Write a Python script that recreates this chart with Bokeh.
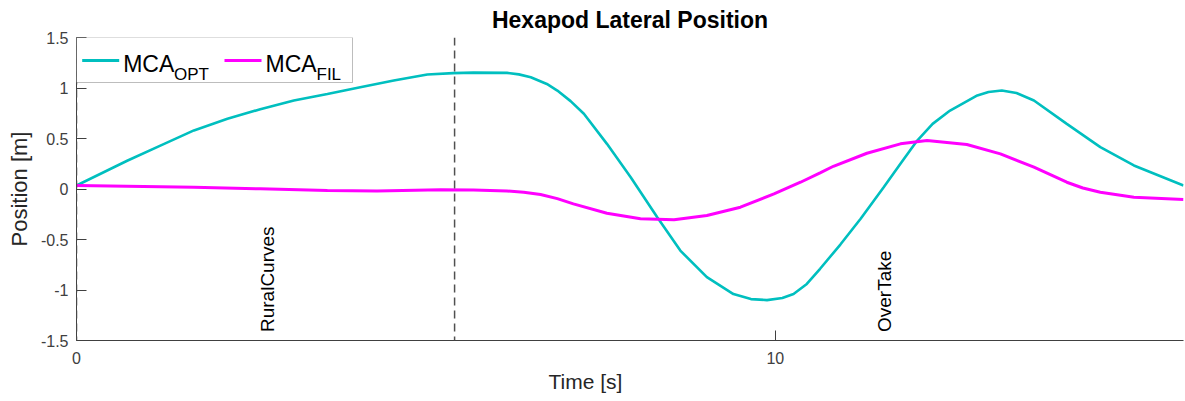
import math
from bokeh.plotting import figure
from bokeh.models import (Span, Label, BoxAnnotation, Arrow, FixedTicker,
                          ColumnDataSource, Range1d, Title)
from bokeh.core.properties import value
from bokeh.embed import file_html
from bokeh.resources import INLINE

# ---------------- data ----------------
t_opt = [0.0, 0.725, 1.20, 1.68, 2.16, 2.63, 3.11, 3.59, 4.06, 4.54, 5.02, 5.39,
         5.68, 6.16, 6.33, 6.50, 6.73, 6.88, 7.07, 7.26, 7.59, 7.93, 8.31, 8.64, 9.02,
         9.40, 9.65, 9.88, 10.10, 10.26, 10.45, 10.64, 10.93, 11.22, 11.55, 11.80, 12.03,
         12.25, 12.50, 12.89, 13.05, 13.24, 13.45, 13.70, 14.17, 14.65, 15.13, 15.84]
y_opt = [0.035, 0.28, 0.43, 0.58, 0.695, 0.79, 0.876, 0.94, 1.008, 1.074, 1.134, 1.147,
         1.152, 1.150, 1.135, 1.107, 1.04, 0.975, 0.87, 0.745, 0.447, 0.117, -0.28, -0.61, -0.873,
         -1.04, -1.09, -1.10, -1.08, -1.04, -0.94, -0.79, -0.55, -0.295, 0.018, 0.26, 0.48,
         0.645, 0.777, 0.926, 0.96, 0.975, 0.95, 0.876, 0.645, 0.414, 0.233, 0.035]

t_fil = [0.0, 1.68, 2.63, 3.59, 4.30, 5.21, 5.68, 6.16, 6.40, 6.64, 6.88, 7.11, 7.59,
         8.07, 8.55, 9.02, 9.50, 9.98, 10.36, 10.64, 10.83, 11.31, 11.79, 12.17, 12.74,
         13.22, 13.70, 14.17, 14.40, 14.65, 15.13, 15.84]
y_fil = [0.035, 0.018, 0.002, -0.015, -0.02, -0.008, -0.010, -0.02, -0.033, -0.054, -0.095, -0.147, -0.24,
         -0.295, -0.305, -0.262, -0.18, -0.048, 0.067, 0.16, 0.225, 0.354, 0.447, 0.48, 0.44,
         0.348, 0.216, 0.067, 0.010, -0.032, -0.081, -0.104]

event_t = [0.0, 5.41]
event_names = ["RuralCurves", "OverTake"]
event_label_t = [2.74, 11.56]

x_ticks = [0, 10]
y_ticks = [-1.5, -1.0, -0.5, 0.0, 0.5, 1.0, 1.5]
y_tick_labels = ["-1.5", "-1", "-0.5", "0", "0.5", "1", "1.5"]

series_names = [("MCA", "OPT"), ("MCA", "FIL")]
series_colors = ["#00BFBF", "#FF00FF"]

# ---------------- layout ----------------
W, H = 1185, 401
BL, BR, BT, BB = 76, 2, 37, 61
X_START, X_END = 0.0, 15.84
Y_START, Y_END = -1.5, 1.5
FONT = "Liberation Sans"
AX_COL = "#404040"

FRAME_LEFT_PAGE = BL
FRAME_TOP_PAGE = BT
SX = (W - BL - BR) / (X_END - X_START)
SY = (H - BT - BB) / (Y_END - Y_START)


def dx(px):
    return X_START + (px - FRAME_LEFT_PAGE) / SX


def dy(py):
    return Y_END - (py - FRAME_TOP_PAGE) / SY


p = figure(width=W, height=H, output_backend="svg", toolbar_location=None,
           x_range=Range1d(X_START, X_END), y_range=Range1d(Y_START, Y_END),
           min_border_left=BL, min_border_right=BR, min_border_top=BT,
           min_border_bottom=BB)
p.outline_line_color = None
p.xgrid.visible = False
p.ygrid.visible = False
p.background_fill_color = "white"
p.border_fill_color = "white"

p.title.text = "Hexapod Lateral Position"
p.title.align = "center"
p.title.text_font = FONT
p.title.text_font_size = "23px"
p.title.text_font_style = "bold"
p.title.text_color = "black"
p.title.standoff = 9

for ax in (p.xaxis, p.yaxis):
    ax.axis_line_color = AX_COL
    ax.major_tick_line_color = AX_COL
    ax.major_tick_in = 10
    ax.major_tick_out = 0
    ax.minor_tick_line_color = None
    ax.major_label_text_font = FONT
    ax.major_label_text_font_size = "16px"
    ax.major_label_text_color = AX_COL
    ax.axis_label_text_font = FONT
    ax.axis_label_text_font_style = "normal"
    ax.axis_label_text_color = "#262626"

p.xaxis.ticker = FixedTicker(ticks=x_ticks)
p.yaxis.ticker = FixedTicker(ticks=y_ticks)
p.yaxis.major_label_overrides = {v: s for v, s in zip(y_ticks, y_tick_labels)}
p.xaxis.major_label_standoff = 11
p.yaxis.major_label_standoff = 8
p.yaxis.axis_label = "Position [m]"
p.yaxis.axis_label_text_font_size = "22px"
p.yaxis.axis_label_standoff = 6

# x label as a below-title so it can sit left of centre like the reference
p.add_layout(Title(text="Time [s]", align="left", offset=472, standoff=3,
                   text_font=FONT, text_font_size="21px",
                   text_font_style="normal", text_color="#262626"), "below")

# event boundaries
for t in event_t:
    p.add_layout(Span(location=t, dimension="height", line_color="#505050",
                      line_width=1.5, line_dash="8 5"))

# series
p.line(t_opt, y_opt, line_color=series_colors[0], line_width=2.6)
p.line(t_fil, y_fil, line_color=series_colors[1], line_width=3.0)

# event labels
src = ColumnDataSource(dict(x=event_label_t, y=[Y_START + 8.5 / SY] * len(event_label_t),
                            text=event_names))
p.text(x="x", y="y", text="text", source=src, angle=math.pi / 2,
       text_font=value(FONT), text_font_size="19px", text_color="black",
       text_align="left", text_baseline="middle")

# legend (manual, for subscripts)
p.add_layout(BoxAnnotation(left=dx(76), right=dx(352), top=Y_END, bottom=dy(82),
                           fill_color="white", fill_alpha=1.0,
                           line_color="#262626", line_width=1))
sw_x = [81.7, 224.0]
txt_x = [122.7, 265.0]
sub_x = [173.5, 316.0]
for i, (main, sub) in enumerate(series_names):
    p.add_layout(Arrow(end=None, x_start=dx(sw_x[i]), x_end=dx(sw_x[i] + 37),
                       y_start=dy(60), y_end=dy(60),
                       line_color=series_colors[i], line_width=3))
    p.add_layout(Label(x=dx(txt_x[i]), y=dy(63.3), text=main, text_font=FONT,
                       text_font_size="23px", text_color="black",
                       text_baseline="alphabetic"))
    p.add_layout(Label(x=dx(sub_x[i]), y=dy(74), text=sub, text_font=FONT,
                       text_font_size="17px", text_color="black",
                       text_baseline="alphabetic"))

open("out.html", "w").write(file_html(p, INLINE))
